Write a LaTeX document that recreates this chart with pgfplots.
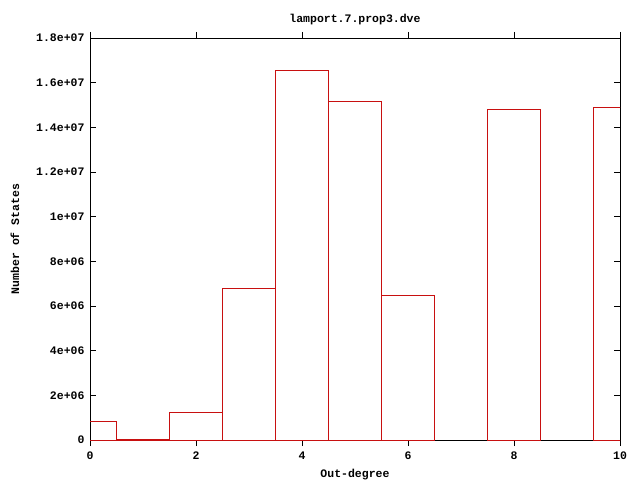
\documentclass[border=0pt]{standalone}
\usepackage{fontspec}
\setmainfont{Liberation Mono}
\usepackage{pgfplots}
\pgfplotsset{compat=1.18}
\definecolor{gpred}{RGB}{200,16,16}
\begin{document}
\begin{tikzpicture}[font=\bfseries\fontsize{11.5}{13}\selectfont]
\useasboundingbox (0,0) rectangle (640pt,480pt);
\begin{axis}[
    at={(90pt,40pt)}, anchor=south west,
    scale only axis,
    width=530pt, height=402pt,
    xmin=0, xmax=10, ymin=0, ymax=1.8e7,
    scaled y ticks=false,
    xtick={0,2,4,6,8,10},
    xticklabels={0,2,4,6,8,10},
    ytick={0,2e6,4e6,6e6,8e6,1e7,1.2e7,1.4e7,1.6e7,1.8e7},
    yticklabels={0,2e+06,4e+06,6e+06,8e+06,1e+07,1.2e+07,1.4e+07,1.6e+07,1.8e+07},
    tick align=inside, tick pos=both,
    major tick length=6pt,
    axis line style={black, line width=0.9pt},
    every tick/.style={black, line width=0.9pt},
    xticklabel style={yshift=-2pt},
    yticklabel style={xshift=-2pt},
    title={lamport.7.prop3.dve},
    title style={yshift=4pt},
    xlabel={Out-degree},
    ylabel={Number of States},
    xlabel style={yshift=-3pt},
    ylabel style={yshift=10pt},
    ybar, bar width=1, bar shift=0pt,
]
\addplot[draw=gpred, fill=none, line width=0.9pt] coordinates {
    (0, 840000)
    (1, 30000)
    (2, 1240000)
    (3, 6800000)
    (4, 16550000)
    (5, 15170000)
    (6, 6490000)
    (8, 14820000)
    (10, 14900000)
};
\end{axis}
\end{tikzpicture}
\end{document}
